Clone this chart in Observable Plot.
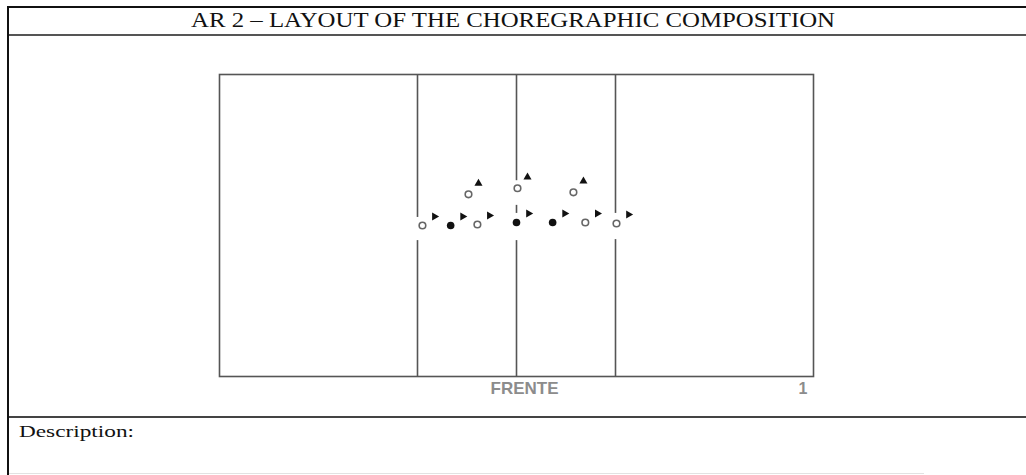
<!DOCTYPE html>
<html>
<head>
<meta charset="utf-8">
<script src="https://cdn.jsdelivr.net/npm/d3@7"></script>
<script src="https://cdn.jsdelivr.net/npm/@observablehq/plot@0.6"></script>
<style>
  html, body { margin: 0; padding: 0; background: #fff; }
  body { width: 1026px; height: 475px; overflow: hidden; position: relative; }
  .rule { position: absolute; }
  #left { left: 7px; top: 6px; width: 2px; height: 469px; background: #111; }
  #top { left: 7px; top: 6px; width: 1019px; height: 2px; background: #111; }
  #sep1 { left: 9px; top: 34px; width: 1017px; height: 2px; background: #555; }
  #sep2 { left: 9px; top: 416px; width: 1017px; height: 2px; background: #444; }
  #foot { left: 9px; top: 473px; width: 915px; height: 1px; background: #e2e2e2; }
  #title { position: absolute; left: 191px; top: 10px;
           font-family: "Liberation Serif", serif; font-size: 20px; line-height: 20px; color: #111;
           white-space: nowrap; transform-origin: 0 0; }
  #desc { position: absolute; left: 19px; top: 423px; font-family: "Liberation Serif", serif;
          font-size: 17px; line-height: 17px; color: #111; white-space: nowrap; transform-origin: 0 0; }
  #chart { position: absolute; left: 0; top: 37px; }
</style>
</head>
<body>
<div class="rule" id="left"></div>
<div class="rule" id="top"></div>
<div class="rule" id="sep1"></div>
<div class="rule" id="sep2"></div>
<div class="rule" id="foot"></div>
<div id="title">AR 2 – LAYOUT OF THE CHOREGRAPHIC COMPOSITION</div>
<div id="chart"></div>
<div id="desc">Description:</div>
<script>
// Stage (floor) extent in field units
const stageX = [0, 12];
const stageY = [0, 6];

// Divider lines of the floor, drawn as segments broken around the dancers
const dividerX      = [4,    4,    6,    6,    6,    8,    8];
const dividerTop    = [6,    2.70, 6,    3.40, 2.70, 6,    2.72];
const dividerBottom = [3.16, 0,    3.89, 3.24, 0,    3.24, 0];

// Dancers
const dancerX      = [4.10, 4.67, 5.21, 6.00, 6.73, 7.39, 8.02, 5.03, 6.02, 7.15];
const dancerY      = [3.00, 3.00, 3.02, 3.06, 3.06, 3.06, 3.04, 3.62, 3.74, 3.66];
const dancerType   = ["open", "filled", "open", "filled", "filled", "open", "open", "open", "open", "open"];
const dancerFacing = ["right", "right", "right", "right", "right", "right", "right", "up", "up", "up"];

// Labels
const frontLabel = ["FRENTE"];
const pageLabel = ["1"];

const dancers = dancerX.map((x, i) => ({
  x, y: dancerY[i], type: dancerType[i], facing: dancerFacing[i],
  angle: dancerFacing[i] === "right" ? 90 : 0
}));
const dividers = dividerX.map((x, i) => ({x, y1: dividerTop[i], y2: dividerBottom[i]}));

const chart = Plot.plot({
  width: 1026,
  height: 380,
  marginLeft: 219,
  marginRight: 213,
  marginTop: 37,
  marginBottom: 41,
  x: {domain: stageX, axis: null},
  y: {domain: stageY, axis: null},
  style: {background: "transparent", overflow: "visible"},
  marks: [
    Plot.frame({stroke: "#555", strokeWidth: 1.6}),
    Plot.ruleX(dividers, {x: "x", y1: "y1", y2: "y2", stroke: "#555", strokeWidth: 1.6}),
    Plot.dot(dancers.filter(d => d.type === "open"), {x: "x", y: "y", r: 3.3, fill: "white", stroke: "#666", strokeWidth: 1.6}),
    Plot.dot(dancers.filter(d => d.type === "filled"), {x: "x", y: "y", r: 3.8, fill: "#111", stroke: "none"}),
    Plot.dot(dancers.filter(d => d.facing === "right"), {x: "x", y: "y", symbol: "triangle", rotate: "angle", r: 3, fill: "#111", stroke: "none", dx: 12, dy: -9}),
    Plot.dot(dancers.filter(d => d.facing === "up"), {x: "x", y: "y", symbol: "triangle", rotate: "angle", r: 3, fill: "#111", stroke: "none", dx: 10, dy: -11}),
    Plot.text(frontLabel, {text: d => d, frameAnchor: "bottom", dx: 8, dy: 17, fontSize: 17, fontWeight: "bold",
      fill: "#8c8c8c", fontFamily: "Liberation Sans, Arial, sans-serif"}),
    Plot.text(pageLabel, {text: d => d, frameAnchor: "bottom-right", textAnchor: "end", dx: -6, dy: 17, fontSize: 16, fontWeight: "bold",
      fill: "#8c8c8c", fontFamily: "Liberation Sans, Arial, sans-serif"})
  ]
});
document.getElementById("chart").appendChild(chart);

function fit(sel, target) {
  const el = document.querySelector(sel);
  const w = el.getBoundingClientRect().width;
  el.style.transform = "scaleX(" + (target / w) + ")";
}
fit("#title", 644);
fit("#desc", 115);
</script>
</body>
</html>
